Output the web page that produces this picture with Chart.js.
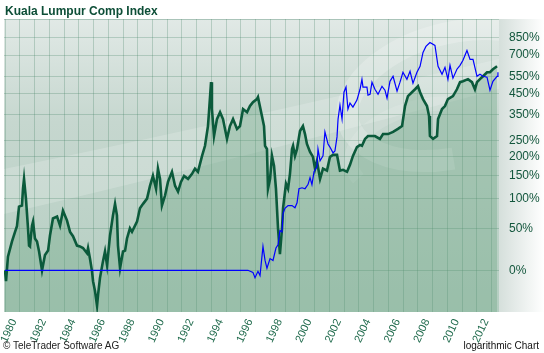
<!DOCTYPE html>
<html>
<head>
<meta charset="utf-8">
<script src="https://cdn.jsdelivr.net/npm/chart.js@4"></script>
<style>
html, body { margin: 0; padding: 0; background: #fff; }
#wrap { position: relative; width: 544px; height: 353px; overflow: hidden; font-family: Arial, "Liberation Sans", sans-serif; }
#c { position: absolute; left: 0; top: 0; }
#title { position: absolute; left: 5px; top: 4px; font-size: 12px; line-height: 14px; font-weight: bold; color: #0d4e37; }
#copy { position: absolute; left: 3px; top: 340px; font-size: 10px; line-height: 12px; color: #222; }
#logscale { position: absolute; right: 5px; top: 340px; font-size: 10px; line-height: 12px; color: #111; }
</style>
</head>
<body>
<div id="wrap">
  <canvas id="c" width="544" height="353"></canvas>
  <div id="title">Kuala Lumpur Comp Index</div>
  <div id="copy">&copy; TeleTrader Software AG</div>
  <div id="logscale">logarithmic Chart</div>
</div>
<script>
// Kuala Lumpur Comp Index, performance in % (log scale)
const greenYears = [1980.00, 1980.07, 1980.20, 1980.47, 1980.68, 1980.81, 1980.95, 1981.15, 1981.22, 1981.29,
  1981.42, 1981.56, 1981.63, 1981.69, 1981.83, 1981.90, 1982.03, 1982.17, 1982.31, 1982.51,
  1982.71, 1982.92, 1983.05, 1983.25, 1983.53, 1983.73, 1983.93, 1984.20, 1984.41, 1984.61,
  1984.88, 1985.08, 1985.29, 1985.56, 1985.63, 1985.76, 1985.90, 1985.97, 1986.10, 1986.24,
  1986.31, 1986.44, 1986.64, 1986.78, 1986.92, 1987.12, 1987.32, 1987.46, 1987.59, 1987.66,
  1987.80, 1988.00, 1988.14, 1988.27, 1988.47, 1988.61, 1988.95, 1989.15, 1989.36, 1989.63,
  1989.83, 1990.03, 1990.24, 1990.37, 1990.51, 1990.64, 1990.85, 1991.05, 1991.32, 1991.53,
  1991.73, 1991.93, 1992.14, 1992.41, 1992.68, 1992.88, 1993.08, 1993.36, 1993.56, 1993.76,
  1993.83, 1993.97, 1994.03, 1994.17, 1994.37, 1994.58, 1994.78, 1995.05, 1995.25, 1995.46,
  1995.73, 1995.93, 1996.14, 1996.41, 1996.61, 1996.81, 1997.08, 1997.15, 1997.42, 1997.56,
  1997.63, 1997.76, 1997.83, 1997.97, 1998.10, 1998.24, 1998.37, 1998.51, 1998.64, 1998.78,
  1998.85, 1999.05, 1999.19, 1999.32, 1999.46, 1999.53, 1999.66, 1999.80, 2000.00, 2000.20,
  2000.34, 2000.47, 2000.68, 2000.88, 2001.02, 2001.15, 2001.36, 2001.56, 2001.83, 2002.03,
  2002.24, 2002.51, 2002.71, 2002.92, 2003.19, 2003.39, 2003.59, 2003.86, 2004.07, 2004.20,
  2004.41, 2004.61, 2004.88, 2005.08, 2005.42, 2005.63, 2005.97, 2006.31, 2006.64, 2006.92,
  2007.12, 2007.32, 2007.59, 2007.80, 2008.00, 2008.14, 2008.34, 2008.61, 2008.75, 2008.81,
  2009.02, 2009.29, 2009.36, 2009.63, 2009.83, 2010.03, 2010.37, 2010.64, 2010.85, 2011.05,
  2011.39, 2011.66, 2011.86, 2012.00, 2012.20, 2012.41, 2012.68, 2012.88, 2013.08, 2013.36];
const greenPct = [0, -10, 14, 32, 45, 53, 85, 87, 120, 142,
  100, 50, 27, 26, 54, 60, 36, 32, 20, 0,
  16, 21, 40, 65, 68, 54, 78, 62, 45, 39,
  27, 26, 24, 18, 24, 12, -1, -10, -18, -29,
  -21, -7, 9, 20, 5, 40, 70, 90, 70, 27,
  2, 20, 21, 36, 50, 45, 60, 82, 90, 100,
  126, 149, 120, 167, 142, 87, 106, 135, 159, 126,
  114, 135, 149, 142, 154, 167, 159, 202, 233, 303,
  361, 516, 375, 266, 331, 361, 331, 256, 303, 331,
  292, 303, 375, 361, 389, 408, 423, 433, 344, 303,
  233, 223, 120, 142, 202, 174, 120, 50, 17, 50,
  82, 131, 120, 154, 223, 233, 202, 223, 284, 303,
  273, 239, 214, 199, 167, 188, 142, 167, 162, 199,
  205, 205, 162, 164, 159, 177, 202, 229, 236, 233,
  256, 266, 266, 266, 256, 273, 273, 281, 292, 303,
  389, 438, 459, 475, 492, 459, 423, 389, 344, 266,
  256, 266, 331, 375, 389, 423, 438, 475, 516, 521,
  534, 516, 475, 516, 534, 552, 578, 578, 598, 618];

// comparison line (blue)
const blueYears = [1980.00, 1996.14, 1996.47, 1996.81, 1996.95, 1997.15, 1997.29, 1997.49, 1997.63, 1997.76,
  1997.97, 1998.17, 1998.37, 1998.51, 1998.64, 1998.78, 1998.85, 1998.98, 1999.19, 1999.46,
  1999.66, 1999.80, 1999.93, 2000.14, 2000.34, 2000.54, 2000.68, 2000.81, 2000.95, 2001.15,
  2001.22, 2001.36, 2001.56, 2001.69, 2001.90, 2002.03, 2002.24, 2002.37, 2002.51, 2002.58,
  2002.71, 2002.85, 2002.98, 2003.12, 2003.25, 2003.39, 2003.59, 2003.86, 2004.07, 2004.20,
  2004.27, 2004.54, 2004.61, 2004.75, 2004.88, 2005.08, 2005.29, 2005.56, 2005.76, 2005.90,
  2006.10, 2006.31, 2006.58, 2006.78, 2006.98, 2007.25, 2007.46, 2007.66, 2007.93, 2008.14,
  2008.34, 2008.54, 2008.81, 2009.15, 2009.36, 2009.63, 2009.83, 2010.03, 2010.17, 2010.37,
  2010.64, 2010.85, 2011.05, 2011.32, 2011.53, 2011.73, 2012.00, 2012.20, 2012.41, 2012.68,
  2012.88, 2013.08, 2013.36, 2013.42];
const bluePct = [0, 0, 0, -2, -7, -1, -5, 26, 10, 2,
  12, 10, 24, 28, 47, 45, 73, 82, 87, 87,
  83, 92, 120, 122, 120, 129, 145, 129, 159, 172,
  223, 188, 202, 281, 239, 229, 211, 217, 263, 331,
  393, 331, 459, 487, 375, 403, 384, 418, 475, 533,
  487, 487, 443, 448, 516, 475, 448, 492, 470, 428,
  521, 552, 465, 516, 578, 533, 584, 510, 578, 618,
  721, 770, 804, 779, 618, 565, 611, 533, 625, 540,
  598, 625, 661, 737, 668, 668, 552, 565, 552, 546,
  470, 521, 552, 578];

const yTickPct = [0, 50, 100, 150, 200, 250, 350, 450, 550, 700, 850];
const yTickLabels = ['0%', '50%', '100%', '150%', '200%', '250%', '350%', '450%', '550%', '700%', '850%'];
const yearTicks = [1980, 1981, 1982, 1983, 1984, 1985, 1986, 1987, 1988, 1989, 1990, 1991, 1992, 1993, 1994, 1995, 1996,
  1997, 1998, 1999, 2000, 2001, 2002, 2003, 2004, 2005, 2006, 2007, 2008, 2009, 2010, 2011, 2012, 2013];

const toRatio = p => 1 + p / 100;

const backdrop = {
  id: 'backdrop',
  beforeDraw(chart) {
    const { ctx, chartArea: a, width } = chart;
    ctx.save();
    // plot background
    let g = ctx.createLinearGradient(0, a.top, 0, a.bottom);
    g.addColorStop(0, '#e1e9e6');
    g.addColorStop(0.35, '#c6d7cf');
    g.addColorStop(1, '#b4cec1');
    ctx.fillStyle = g;
    ctx.fillRect(a.left, a.top, a.right - a.left, a.bottom - a.top);

    ctx.beginPath();
    ctx.rect(a.left, a.top, a.right - a.left, a.bottom - a.top);
    ctx.clip();
    // soft light band
    ctx.beginPath();
    ctx.moveTo(a.left, a.top + 150);
    ctx.quadraticCurveTo(200, a.top + 110, a.right, a.top + 40);
    ctx.lineTo(a.right, a.top + 70);
    ctx.quadraticCurveTo(200, a.top + 150, a.left, a.top + 195);
    ctx.closePath();
    ctx.fillStyle = 'rgba(255,255,255,0.18)';
    ctx.fill();
    // logo swirl, upper right
    ctx.lineWidth = 22;
    ctx.strokeStyle = 'rgba(255,255,255,0.22)';
    ctx.beginPath();
    ctx.ellipse(455, 95, 110, 62, -0.25, Math.PI * 0.55, Math.PI * 1.9);
    ctx.stroke();
    ctx.lineWidth = 14;
    ctx.strokeStyle = 'rgba(255,255,255,0.12)';
    ctx.beginPath();
    ctx.ellipse(430, 150, 80, 45, -0.2, Math.PI * 0.9, Math.PI * 1.6);
    ctx.stroke();
    ctx.restore();

    // right axis panel
    ctx.save();
    g = ctx.createLinearGradient(a.right, 0, width, 0);
    g.addColorStop(0, '#d5dfdb');
    g.addColorStop(1, '#ffffff');
    ctx.fillStyle = g;
    ctx.fillRect(a.right, a.top, width - a.right, a.bottom - a.top);
    ctx.restore();
  },
  afterDraw(chart) {
    const { ctx, chartArea: a } = chart;
    ctx.save();
    ctx.strokeStyle = 'rgba(70,130,100,0.35)';
    ctx.lineWidth = 1;
    ctx.beginPath();
    ctx.moveTo(a.left, a.top + 0.5);
    ctx.lineTo(a.right, a.top + 0.5);
    ctx.stroke();
    ctx.restore();
  }
};

const ctx = document.getElementById('c');
new Chart(ctx, {
  type: 'line',
  data: {
    datasets: [
      {
        label: 'Comparison',
        data: blueYears.map((x, i) => ({ x, y: toRatio(bluePct[i]) })),
        borderColor: '#0000ff',
        borderWidth: 1.2,
        pointRadius: 0,
        tension: 0,
        fill: false
      },
      {
        label: 'Kuala Lumpur Comp Index',
        data: greenYears.map((x, i) => ({ x, y: toRatio(greenPct[i]) })),
        borderColor: '#0b5a3b',
        backgroundColor: 'rgba(95,160,120,0.32)',
        borderWidth: 2.6,
        pointRadius: 0,
        tension: 0,
        fill: 'start'
      }
    ]
  },
  options: {
    responsive: false,
    animation: false,
    devicePixelRatio: 1,
    layout: { padding: { top: 19, left: 4, right: 0, bottom: 0 } },
    plugins: {
      legend: { display: false },
      tooltip: { enabled: false }
    },
    scales: {
      x: {
        type: 'linear',
        min: 1979.932,
        max: 2013.492,
        afterBuildTicks(scale) {
          scale.ticks = yearTicks.map(v => ({ value: v }));
        },
        afterFit(scale) {
          scale.height = 41;
          scale.paddingLeft = 0;
          scale.paddingRight = 0;
        },
        grid: { color: 'rgba(70,130,100,0.28)', drawTicks: false },
        border: { display: false },
        ticks: {
          autoSkip: false,
          minRotation: 65,
          maxRotation: 65,
          padding: 5,
          labelOffset: 9,
          color: '#1f6a4c',
          font: { family: 'Arial, "Liberation Sans", sans-serif', size: 11 },
          callback: v => (v % 2 === 0 ? String(v) : '')
        }
      },
      y: {
        type: 'logarithmic',
        position: 'right',
        min: 0.6684,
        max: 11.34,
        afterBuildTicks(scale) {
          scale.ticks = yTickPct.map(p => ({ value: toRatio(p) }));
        },
        afterFit(scale) {
          scale.width = 45;
          scale.paddingTop = 0;
          scale.paddingBottom = 0;
        },
        grid: { color: 'rgba(70,130,100,0.28)', drawTicks: false },
        border: { display: false },
        ticks: {
          padding: 10,
          color: '#12563c',
          font: { family: 'Arial, "Liberation Sans", sans-serif', size: 12 },
          callback: (v, i) => yTickLabels[i]
        }
      }
    }
  },
  plugins: [backdrop]
});
</script>
</body>
</html>
